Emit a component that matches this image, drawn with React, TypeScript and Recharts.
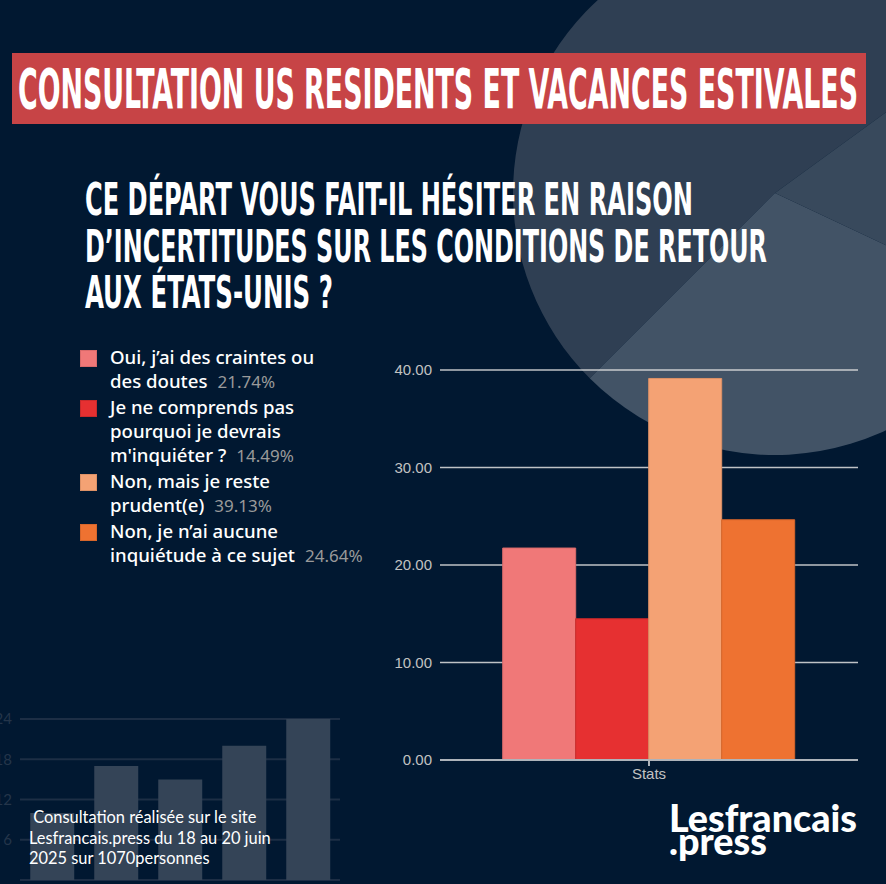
import { Bar, BarChart, CartesianGrid, Cell, Pie, PieChart, XAxis, YAxis } from 'recharts'

// main question: share of answers (%)
const CATEGORY = ['Stats']
const ANSWERS = [
  'Oui, j’ai des craintes ou\ndes doutes',
  'Je ne comprends pas\npourquoi je devrais\nm\'inquiéter ?',
  'Non, mais je reste\nprudent(e)',
  'Non, je n’ai aucune\ninquiétude à ce sujet',
]
const SHARES = [21.74, 14.49, 39.13, 24.64]
const COLORS = ['#f07878', '#e63031', '#f4a274', '#ee7231']
const EDGES = ['#d96a6a', '#c92a2b', '#dd9166', '#d6662b']
const Y_TICKS = [0, 10, 20, 30, 40]

// decorative background shapes
const DECO_PIE = [52.5, 30.5, 17]
const DECO_PIE_COLORS = ['#2f3f53', '#425366', '#38495c']
const DECO_BARS = [10, 17, 15, 20, 24]
const DECO_TICKS = [0, 6, 12, 18, 24]

const BG = '#011831'
const keys = ['a', 'b', 'c', 'd']

export default function App() {
  const data = CATEGORY.map((name) => {
    const row: Record<string, string | number> = { name }
    SHARES.forEach((v, i) => (row[keys[i]] = v))
    return row
  })
  const pieData = DECO_PIE.map((value, i) => ({ name: `s${i}`, value }))
  const decoData = DECO_BARS.map((value, i) => ({ name: `c${i}`, value }))

  return (
    <div style={{ position: 'absolute', left: 0, top: 0, width: 886, height: 884, background: BG, overflow: 'hidden' }}>
      <div style={{ position: 'absolute', left: 0, top: 0 }}>
        <PieChart width={886} height={884}>
          <Pie
            data={pieData}
            dataKey="value"
            cx={770}
            cy={188}
            outerRadius={262}
            innerRadius={0}
            startAngle={36}
            endAngle={396}
            stroke="none"
            isAnimationActive={false}
          >
            {pieData.map((_, i) => (
              <Cell key={i} fill={DECO_PIE_COLORS[i]} />
            ))}
          </Pie>
        </PieChart>
      </div>

      <div style={{ position: 'absolute', left: -30, top: 700 }}>
        <BarChart width={380} height={184} data={decoData} margin={{ top: 19, right: 10, bottom: 4, left: 10 }} barCategoryGap="16%">
          <CartesianGrid stroke="#1d2e45" strokeWidth={2} vertical={false} />
          <XAxis dataKey="name" hide />
          <YAxis
            domain={[0, 24]}
            ticks={DECO_TICKS}
            width={40}
            axisLine={false}
            tickLine={false}
            tick={{ fill: '#24354a', fontSize: 15, fontFamily: 'Lato, sans-serif' }}
          />
          <Bar dataKey="value" fill="#344457" isAnimationActive={false} />
        </BarChart>
      </div>

      <div
        style={{
          position: 'absolute',
          left: 29,
          top: 807,
          color: '#ffffff',
          fontFamily: 'Lato, sans-serif',
          fontSize: 16.4,
          lineHeight: '20.5px',
          whiteSpace: 'pre',
        }}
      >
        {' Consultation réalisée sur le site\nLesfrancais.press du 18 au 20 juin\n2025 sur 1070personnes'}
      </div>

      <svg width={886} height={884} style={{ position: 'absolute', left: 0, top: 0 }}>
        <rect x={12} y={53} width={854} height={71} fill="#c74446" />
        <g fill="#ffffff" fontFamily="'Liberation Sans Narrow', 'DejaVu Sans Condensed', sans-serif" fontWeight="bold">
          <text x={18} y={108} fontSize={55} textLength={840} lengthAdjust="spacingAndGlyphs">
            CONSULTATION US RESIDENTS ET VACANCES ESTIVALES
          </text>
          <text x={85} y={215} fontSize={44} textLength={608} lengthAdjust="spacingAndGlyphs">
            CE DÉPART VOUS FAIT-IL HÉSITER EN RAISON
          </text>
          <text x={85} y={262} fontSize={44} textLength={682} lengthAdjust="spacingAndGlyphs">
            D’INCERTITUDES SUR LES CONDITIONS DE RETOUR
          </text>
          <text x={85} y={308} fontSize={44} textLength={248} lengthAdjust="spacingAndGlyphs">
            AUX ÉTATS-UNIS ?
          </text>
        </g>
        <g fill="#ffffff" fontFamily="Lato, sans-serif" fontWeight={900}>
          <text x={669} y={832} fontSize={37} textLength={188} lengthAdjust="spacingAndGlyphs">
            Lesfrancais
          </text>
          <text x={669} y={855} fontSize={37} textLength={98} lengthAdjust="spacingAndGlyphs">
            .press
          </text>
        </g>
      </svg>

      <div style={{ position: 'absolute', left: 80, top: 345, fontFamily: "'Noto Sans', sans-serif" }}>
        {ANSWERS.map((label, i) => (
          <div key={i} style={{ display: 'flex', alignItems: 'flex-start', marginBottom: 1 }}>
            <div
              style={{
                width: 15,
                height: 15,
                marginTop: 5,
                background: COLORS[i],
                border: `1px solid ${EDGES[i]}`,
                flex: 'none',
              }}
            />
            <div style={{ marginLeft: 13, color: '#ffffff', fontSize: 18.6, fontWeight: 500, lineHeight: '24px', whiteSpace: 'pre-line' }}>
              {label}
              <span style={{ color: '#9a9a9a', fontSize: 17, fontWeight: 400, marginLeft: 10 }}>{SHARES[i].toFixed(2)}%</span>
            </div>
          </div>
        ))}
      </div>

      <div style={{ position: 'absolute', left: 380, top: 350 }}>
        <BarChart width={490} height={450} data={data} margin={{ top: 20, right: 12, bottom: 10, left: 0 }} barCategoryGap="15%" barGap={0}>
          <CartesianGrid stroke="rgba(225,225,225,0.85)" strokeWidth={1.3} vertical={false} />
          <XAxis
            dataKey="name"
            height={30}
            axisLine={{ stroke: '#aeb3ba', strokeWidth: 2 }}
            tickLine={{ stroke: '#aeb3ba', strokeWidth: 2 }}
            tick={{ fill: '#c2c2c2', fontSize: 15, fontFamily: "'Liberation Sans', Arial, sans-serif" }}
          />
          <YAxis
            domain={[0, 40]}
            ticks={Y_TICKS}
            width={60}
            axisLine={false}
            tickLine={false}
            tickFormatter={(v) => Number(v).toFixed(2)}
            tick={{ fill: '#c2c2c2', fontSize: 15, fontFamily: "'Liberation Sans', Arial, sans-serif" }}
          />
          {keys.map((k, i) => (
            <Bar key={k} dataKey={k} name={ANSWERS[i]} fill={COLORS[i]} stroke={EDGES[i]} strokeWidth={1} isAnimationActive={false} />
          ))}
        </BarChart>
      </div>
    </div>
  )
}
